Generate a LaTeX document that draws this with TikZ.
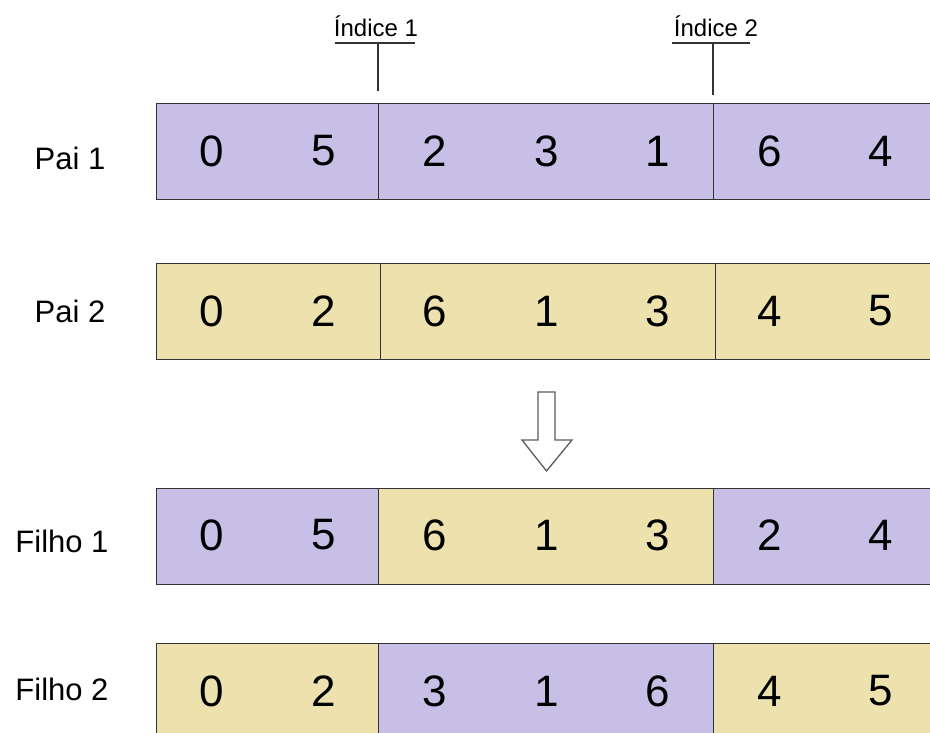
\documentclass[tikz,border=0pt]{standalone}
\usepackage{fontspec}
\setmainfont{Liberation Sans}
\definecolor{lav}{RGB}{199,191,230}
\definecolor{tan}{RGB}{237,225,174}
\definecolor{edge}{RGB}{51,51,51}
\begin{document}
\begin{tikzpicture}[x=1pt,y=-1pt,
  seg/.style={draw=edge,line width=1.3pt,inner sep=0pt,anchor=north west,minimum height=96pt},
  dig/.style={font=\fontsize{44}{44}\selectfont,inner sep=0pt},
  rowlab/.style={font=\fontsize{31}{31}\selectfont,inner sep=0pt},
  idx/.style={font=\fontsize{24}{24}\selectfont,inner sep=0pt,anchor=base},
  idxline/.style={draw=edge,line width=1.3pt}]
\clip (0,0) rectangle (930,733);
\fill[white] (0,0) rectangle (930,733);
% Row 1: Pai 1
\node[seg,fill=lav,minimum width=222pt] (r1a) at (156,103) {};
\node[seg,fill=lav,minimum width=335pt] (r1b) at (378,103) {};
\node[seg,fill=lav,minimum width=230pt] (r1c) at (713,103) {};
% Row 2: Pai 2
\node[seg,fill=tan,minimum width=224pt] (r2a) at (156,263) {};
\node[seg,fill=tan,minimum width=335pt] (r2b) at (380,263) {};
\node[seg,fill=tan,minimum width=230pt] (r2c) at (715,263) {};
% Row 3: Filho 1
\node[seg,fill=lav,minimum width=222pt] (r3a) at (156,488) {};
\node[seg,fill=tan,minimum width=335pt] (r3b) at (378,488) {};
\node[seg,fill=lav,minimum width=230pt] (r3c) at (713,488) {};
% Row 4: Filho 2
\node[seg,fill=tan,minimum width=222pt] (r4a) at (156,643) {};
\node[seg,fill=lav,minimum width=335pt] (r4b) at (378,643) {};
\node[seg,fill=tan,minimum width=230pt] (r4c) at (713,643) {};
% digits
\foreach \y/\row in {151/{0,5,2,3,1,6,4},311/{0,2,6,1,3,4,5},535/{0,5,6,1,3,2,4},691/{0,2,3,1,6,4,5}}{
  \foreach \d [count=\i] in \row {
    \node[dig] (d\y-\i) at ({100.5+111.5*\i},\y) {\d};
  }
}
% row labels
\node[rowlab] (l1) at (70,158) {Pai 1};
\node[rowlab] (l2) at (70,311) {Pai 2};
\node[rowlab] (l3) at (62,541) {Filho 1};
\node[rowlab] (l4) at (62,689) {Filho 2};
% index markers
\node[idx] (i1) at (376,37) {Índice 1};
\node[idx] (i2) at (716,37) {Índice 2};
\coordinate (u1l) at (335,43); \coordinate (u1r) at (415,43);
\coordinate (u2l) at (672,43); \coordinate (u2r) at (750,43);
\draw[idxline] (u1l) -- (u1r);
\draw[idxline] (u2l) -- (u2r);
\draw[idxline] (378,43) -- (378,91);
\draw[idxline] (713,43) -- (713,95);
% arrow
\draw[draw=edge!80,fill=white,line width=1.3pt,line join=miter]
  (538,392) -- (555,392) -- (555,440) -- (572,440) -- (546.5,471) -- (522,440) -- (538,440) -- cycle;
\end{tikzpicture}
\end{document}
